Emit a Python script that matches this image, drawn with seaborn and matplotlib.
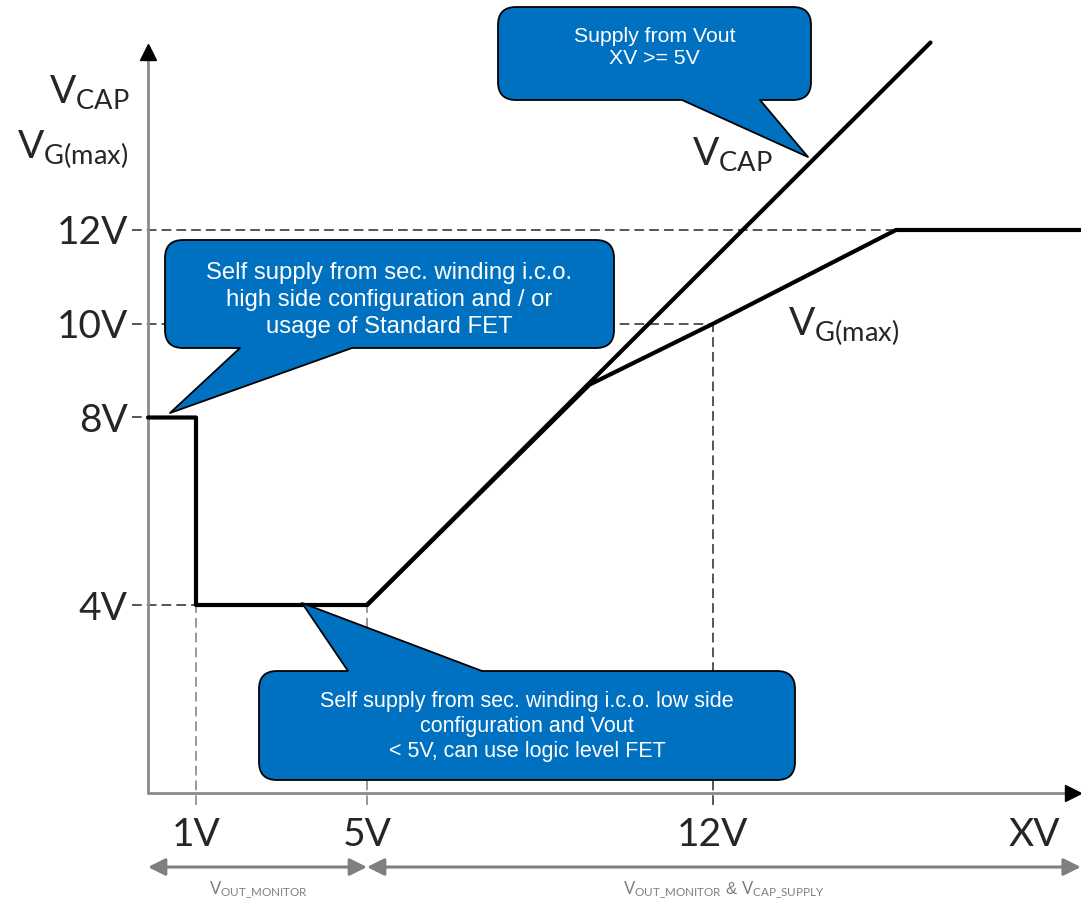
import numpy as np
import matplotlib
matplotlib.use("Agg")
import matplotlib.pyplot as plt
import seaborn as sns
from matplotlib.path import Path
from matplotlib.patches import PathPatch
from matplotlib.transforms import Affine2D

W, H = 1081, 905

# Curves (x = XV in volts, y = volts)
vg_x = [0, 1, 1, 5, 9.5, 12, 15.7, 19.6]
vg_y = [8, 8, 4, 4, 8.7, 10, 12, 12]
vcap_x = [5, 16.4]
vcap_y = [4, 16.0]

# Guide lines
h_guide_y = [12, 10, 8, 4]
h_guide_end = [15.7, 12, 0, 5]
v_guide_x = [1, 5, 12]
v_guide_top = [4, 4, 10]

# Tick labels
y_ticks = [4, 8, 10, 12]
y_labels = ["4V", "8V", "10V", "12V"]
x_ticks = [1, 5, 12, 18.5]
x_labels = ["1V", "5V", "12V", "XV"]

# Callout texts
txt_top = "Supply from Vout\nXV >= 5V"
txt_left = ("Self supply from sec. winding i.c.o.\n"
            "high side configuration and / or\nusage of Standard FET")
txt_bottom = ("Self supply from sec. winding i.c.o. low side\n"
              "configuration and Vout\n< 5V, can use logic level FET")

BLUE = "#0070C0"
TXT = "#262626"
GREY = "#7f7f7f"

# the x axis of the sketch is not to scale: piecewise linear mapping
knot_v = [-5, 0, 1, 5, 12, 25]
knot_p = [-92, 148, 196, 367, 713, 1355.6]


def fwd(v):
    return np.interp(v, knot_v, knot_p)


def inv(p):
    return np.interp(p, knot_p, knot_v)


sns.set_style("white")
plt.rcParams["font.family"] = ["Lato", "DejaVu Sans"]
plt.rcParams["mathtext.fontset"] = "custom"
plt.rcParams["mathtext.rm"] = "Lato"

fig = plt.figure(figsize=(W / 100, H / 100), dpi=100)
ax = fig.add_axes([0, 0, 1, 1])
ax.set_xscale("function", functions=(fwd, inv))
ax.set_xlim(float(inv(0)), float(inv(W)))
ax.set_ylim(-112.5 / 46.875, 792.5 / 46.875)
ax.axis("off")

# pixel transform (origin top-left) for the callout boxes
pix = Affine2D().scale(1 / W, -1 / H).translate(0, 1) + fig.transFigure

# guide lines
x_left = -0.33
for yv, xe in zip(h_guide_y, h_guide_end):
    ax.plot([x_left, xe], [yv, yv], color="#555555", lw=1.4,
            linestyle=(0, (5, 2.6)), zorder=2)
for xv, yt in zip(v_guide_x, v_guide_top):
    col = "#555555" if xv == 12 else "#999999"
    ax.plot([xv, xv], [-0.27, yt], color=col, lw=1.4,
            linestyle=(0, (5, 2.6)), zorder=2)

# axes with arrow heads
ax.plot([0, 0], [0, 15.7], color="#8a8a8a", lw=2, zorder=3)
ax.plot([0, 19.2], [0, 0], color="#8a8a8a", lw=2, zorder=3)
ax.plot([0], [15.8], marker="^", color="black", ms=11, zorder=4)
ax.plot([19.28], [0], marker=">", color="black", ms=11, zorder=4)

# curves
sns.lineplot(x=vg_x, y=vg_y, sort=False, estimator=None, color="black",
             lw=3, ax=ax, zorder=5)
sns.lineplot(x=vcap_x, y=vcap_y, sort=False, estimator=None, color="black",
             lw=3, ax=ax, zorder=5)

# tick labels
for yv, lab in zip(y_ticks, y_labels):
    ax.text(-0.42, yv, lab, ha="right", va="center_baseline", fontsize=28,
            color=TXT)
for xv, lab in zip(x_ticks, x_labels):
    ax.text(xv, -0.84, lab, ha="center", va="center_baseline", fontsize=28,
            color=TXT)

# axis titles and curve labels
ax.text(-0.38, 14.71, r"$\mathrm{V_{CAP}}$", ha="right", va="baseline",
        fontsize=28, color=TXT)
ax.text(-0.42, 13.54, r"$\mathrm{V_{G(max)}}$", ha="right", va="baseline",
        fontsize=28, color=TXT)
ax.text(11.58, 13.39, r"$\mathrm{V_{CAP}}$", ha="left", va="baseline",
        fontsize=28, color=TXT)
ax.text(13.52, 9.76, r"$\mathrm{V_{G(max)}}$", ha="left", va="baseline",
        fontsize=28, color=TXT)

# range arrows under the x axis
arr = dict(arrowstyle="<|-|>", color=GREY, lw=2.2, mutation_scale=26,
           shrinkA=0, shrinkB=0)
ax.annotate("", xy=(0, -1.59), xytext=(5, -1.59), arrowprops=arr)
ax.annotate("", xy=(5, -1.59), xytext=(19.44, -1.59), arrowprops=arr)
ax.text(2.47, -2.08, r"$\mathrm{V_{OUT\_MONITOR}}$", ha="center",
        va="center", fontsize=12, color=GREY, family="Liberation Sans")
ax.text(12.22, -2.08,
        r"$\mathrm{V_{OUT\_MONITOR}}$ & $\mathrm{V_{CAP\_SUPPLY}}$",
        ha="center", va="center", fontsize=12, color=GREY,
        family="Liberation Sans")


def callout(x0, y0, x1, y1, base, tip, side, r=18):
    b1, b2 = base
    M, L, C = Path.MOVETO, Path.LINETO, Path.CURVE3
    v, c = [(x0 + r, y0)], [M]
    if side == "top":
        v += [(b1, y0), tip, (b2, y0)]
        c += [L, L, L]
    v += [(x1 - r, y0), (x1, y0), (x1, y0 + r), (x1, y1 - r),
          (x1, y1), (x1 - r, y1)]
    c += [L, C, C, L, C, C]
    if side == "bottom":
        v += [(b2, y1), tip, (b1, y1)]
        c += [L, L, L]
    v += [(x0 + r, y1), (x0, y1), (x0, y1 - r), (x0, y0 + r),
          (x0, y0), (x0 + r, y0), (0, 0)]
    c += [L, C, C, L, C, C, Path.CLOSEPOLY]
    ax.add_patch(PathPatch(Path(v, c), facecolor=BLUE, edgecolor="black",
                           lw=1.3, joinstyle="round", transform=pix,
                           zorder=6))


callout(498, 7, 811, 100, (682, 760), (808, 157), "bottom")
callout(165, 240, 614, 348, (240, 352), (170, 413), "bottom")
callout(259, 671, 795, 780, (348, 482), (302, 603), "top")

ax.text(654.5, 47, txt_top, transform=pix, ha="center", va="center",
        fontsize=15.3, linespacing=1.2, color="white",
        family="Liberation Sans", zorder=7)
ax.text(389.5, 300, txt_left, transform=pix, ha="center", va="center",
        fontsize=17.2, linespacing=1.28, color="white",
        family="Liberation Sans", zorder=7)
ax.text(527, 726, txt_bottom, transform=pix, ha="center", va="center",
        fontsize=15.5, linespacing=1.25, color="white",
        family="Liberation Sans", zorder=7)

plt.savefig("out.png", dpi=100)
